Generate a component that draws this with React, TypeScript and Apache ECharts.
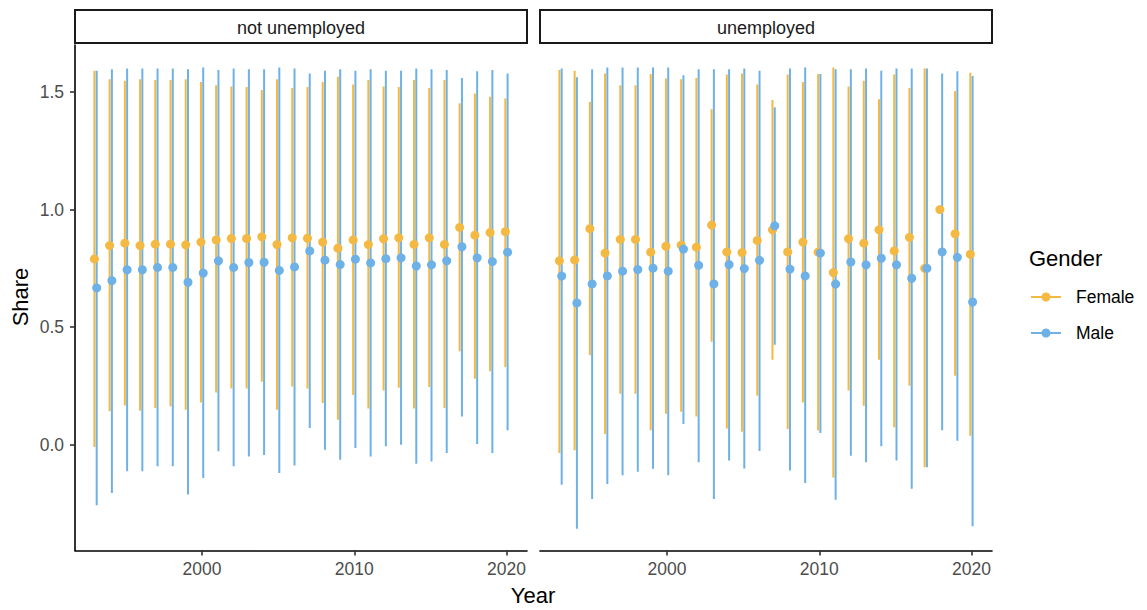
import React, { useEffect, useRef } from "react";
import * as echarts from "echarts";

const years = [1993, 1994, 1995, 1996, 1997, 1998, 1999, 2000, 2001, 2002, 2003, 2004, 2005, 2006, 2007, 2008, 2009, 2010, 2011, 2012, 2013, 2014, 2015, 2016, 2017, 2018, 2019, 2020];
const panels = ["not unemployed", "unemployed"];
const genders = ["Female", "Male"];
const xTicks = [2000, 2010, 2020];
const yTicks = [0, 0.5, 1, 1.5];

// not unemployed
const nuFemaleMean = [0.790, 0.847, 0.857, 0.847, 0.853, 0.853, 0.850, 0.862, 0.871, 0.877, 0.877, 0.884, 0.851, 0.880, 0.878, 0.862, 0.836, 0.871, 0.851, 0.876, 0.880, 0.852, 0.880, 0.852, 0.924, 0.891, 0.902, 0.906];
const nuFemaleLow = [-0.010, 0.142, 0.167, 0.144, 0.156, 0.163, 0.149, 0.180, 0.222, 0.239, 0.239, 0.268, 0.149, 0.248, 0.239, 0.177, 0.106, 0.211, 0.154, 0.230, 0.242, 0.154, 0.245, 0.156, 0.397, 0.280, 0.312, 0.330];
const nuFemaleHigh = [1.591, 1.554, 1.548, 1.554, 1.551, 1.551, 1.554, 1.543, 1.529, 1.524, 1.521, 1.509, 1.554, 1.517, 1.521, 1.543, 1.565, 1.532, 1.551, 1.524, 1.521, 1.551, 1.517, 1.551, 1.452, 1.494, 1.480, 1.472];
const nuMaleMean = [0.667, 0.698, 0.744, 0.744, 0.754, 0.754, 0.691, 0.730, 0.782, 0.754, 0.775, 0.776, 0.741, 0.756, 0.824, 0.785, 0.766, 0.789, 0.773, 0.791, 0.795, 0.760, 0.765, 0.782, 0.842, 0.795, 0.779, 0.819];
const nuMaleLow = [-0.258, -0.205, -0.113, -0.113, -0.092, -0.092, -0.212, -0.142, -0.028, -0.092, -0.050, -0.044, -0.120, -0.089, 0.071, -0.021, -0.064, -0.014, -0.050, -0.007, 0.000, -0.081, -0.071, -0.035, 0.120, 0.003, -0.035, 0.061];
const nuMaleHigh = [1.591, 1.597, 1.600, 1.600, 1.600, 1.600, 1.597, 1.604, 1.594, 1.600, 1.597, 1.597, 1.604, 1.600, 1.579, 1.591, 1.597, 1.591, 1.597, 1.591, 1.591, 1.600, 1.597, 1.594, 1.560, 1.588, 1.594, 1.579];

// unemployed
const uFemaleMean = [0.782, 0.786, 0.919, 0.815, 0.873, 0.873, 0.819, 0.844, 0.849, 0.840, 0.934, 0.820, 0.817, 0.869, 0.914, 0.820, 0.862, 0.819, 0.732, 0.876, 0.857, 0.914, 0.824, 0.882, 0.750, 1.000, 0.897, 0.810];
const uFemaleLow = [-0.035, -0.024, 0.381, 0.045, 0.217, 0.217, 0.061, 0.132, 0.140, 0.120, 0.438, 0.069, 0.055, 0.208, 0.361, 0.067, 0.180, 0.060, -0.139, 0.230, 0.166, 0.361, 0.074, 0.251, -0.096, null, 0.293, 0.038];
const uFemaleHigh = [1.594, 1.591, 1.458, 1.579, 1.529, 1.529, 1.577, 1.557, 1.554, 1.560, 1.427, 1.574, 1.579, 1.532, 1.466, 1.574, 1.543, 1.577, 1.604, 1.524, 1.548, 1.469, 1.574, 1.517, 1.600, null, 1.504, 1.582];
const uMaleMean = [0.717, 0.603, 0.684, 0.718, 0.738, 0.745, 0.751, 0.738, 0.832, 0.763, 0.684, 0.766, 0.749, 0.784, 0.931, 0.747, 0.718, 0.815, 0.683, 0.777, 0.765, 0.793, 0.765, 0.708, 0.750, 0.820, 0.797, 0.607];
const uMaleLow = [-0.170, -0.357, -0.231, -0.167, -0.130, -0.115, -0.102, -0.130, 0.088, -0.075, -0.231, -0.067, -0.101, -0.027, 0.425, -0.110, -0.163, 0.050, -0.234, -0.047, -0.075, -0.007, -0.067, -0.187, -0.096, 0.061, 0.017, -0.347];
const uMaleHigh = [1.600, 1.563, 1.597, 1.604, 1.604, 1.604, 1.604, 1.604, 1.571, 1.597, 1.597, 1.597, 1.600, 1.591, 1.435, 1.600, 1.604, 1.577, 1.597, 1.597, 1.600, 1.591, 1.600, 1.600, 1.600, 1.579, 1.588, 1.568];

const COLORS = { Female: "#F4B942", Male: "#6DB1E7" };
const FONT = "'Liberation Sans', Arial, Helvetica, sans-serif";
const DODGE = 0.075;

export default function App() {
  const ref = useRef<HTMLDivElement>(null);

  useEffect(() => {
    if (!ref.current) return;
    const chart = echarts.init(ref.current, null, { renderer: "svg" });

    const gridDefs = [
      { left: 75, top: 45, width: 452, height: 505.5 },
      { left: 540, top: 45, width: 452, height: 505.5 },
    ];

    const panelData = [
      {
        Female: { mean: nuFemaleMean, low: nuFemaleLow, high: nuFemaleHigh },
        Male: { mean: nuMaleMean, low: nuMaleLow, high: nuMaleHigh },
      },
      {
        Female: { mean: uFemaleMean, low: uFemaleLow, high: uFemaleHigh },
        Male: { mean: uMaleMean, low: uMaleLow, high: uMaleHigh },
      },
    ];

    const xAxes = gridDefs.map((_, i) => ({
      type: "value",
      gridIndex: i,
      min: 1991.65,
      max: 2021.35,
      axisLine: { show: true, onZero: false, lineStyle: { color: "#000", width: 1.6 } },
      axisTick: { show: true, length: 5, customValues: xTicks, lineStyle: { color: "#333", width: 1.6 } },
      axisLabel: {
        show: true,
        customValues: xTicks,
        color: "#4D4D4D",
        fontSize: 17.5,
        fontFamily: FONT,
        margin: 9,
        formatter: (v: number) => String(v),
      },
      splitLine: { show: false },
    }));

    const yAxes = gridDefs.map((_, i) => ({
      type: "value",
      gridIndex: i,
      min: -0.45,
      max: 1.7,
      axisLine: { show: i === 0, onZero: false, lineStyle: { color: "#000", width: 1.6 } },
      axisTick: { show: i === 0, length: 5, customValues: yTicks, lineStyle: { color: "#333", width: 1.6 } },
      axisLabel: {
        show: i === 0,
        customValues: yTicks,
        color: "#4D4D4D",
        fontSize: 17.5,
        fontFamily: FONT,
        margin: 11,
        formatter: (v: number) => v.toFixed(1),
      },
      splitLine: { show: false },
    }));

    const series: any[] = [];
    panelData.forEach((pd, pi) => {
      genders.forEach((g, gi) => {
        const d = (pd as any)[g];
        const off = gi === 0 ? -DODGE : DODGE;
        series.push({
          type: "custom",
          name: g,
          xAxisIndex: pi,
          yAxisIndex: pi,
          z: 1,
          silent: true,
          data: years.map((y, k) => [y + off, d.low[k], d.high[k]]),
          encode: { x: 0, y: [1, 2] },
          renderItem: (params: any, api: any) => {
            const lo = api.value(1);
            const hi = api.value(2);
            if (lo === null || hi === null || isNaN(lo) || isNaN(hi)) return null;
            const p1 = api.coord([api.value(0), lo]);
            const p2 = api.coord([api.value(0), hi]);
            return {
              type: "line",
              shape: { x1: p1[0], y1: p1[1], x2: p2[0], y2: p2[1] },
              style: { stroke: (COLORS as any)[g], lineWidth: 2 },
            };
          },
        });
      });
    });
    panelData.forEach((pd, pi) => {
      genders.forEach((g, gi) => {
        const d = (pd as any)[g];
        const off = gi === 0 ? -DODGE : DODGE;
        series.push({
          type: "scatter",
          name: g,
          xAxisIndex: pi,
          yAxisIndex: pi,
          z: 2,
          symbol: "circle",
          symbolSize: 9,
          itemStyle: { color: (COLORS as any)[g], opacity: 1 },
          data: years.map((y, k) => [y + off, d.mean[k]]),
        });
      });
    });

    const graphics: any[] = [];
    gridDefs.forEach((gd, i) => {
      graphics.push({
        type: "rect",
        shape: { x: gd.left, y: 10, width: gd.width, height: 33 },
        style: { fill: "#fff", stroke: "#1a1a1a", lineWidth: 2 },
      });
      graphics.push({
        type: "text",
        x: gd.left + gd.width / 2,
        y: 27.5,
        style: {
          text: panels[i],
          fill: "#1A1A1A",
          fontSize: 18,
          fontFamily: FONT,
          textAlign: "center",
          textVerticalAlign: "middle",
        },
      });
    });
    graphics.push({
      type: "text",
      x: 533,
      y: 595,
      style: { text: "Year", fill: "#000", fontSize: 22, fontFamily: FONT, textAlign: "center", textVerticalAlign: "middle" },
    });
    graphics.push({
      type: "text",
      x: 20,
      y: 297,
      rotation: Math.PI / 2,
      style: { text: "Share", fill: "#000", fontSize: 22, fontFamily: FONT, textAlign: "center", textVerticalAlign: "middle" },
    });
    graphics.push({
      type: "text",
      x: 1029,
      y: 258,
      style: { text: "Gender", fill: "#000", fontSize: 22, fontFamily: FONT, textAlign: "left", textVerticalAlign: "middle" },
    });
    genders.forEach((g, i) => {
      const cy = 297 + i * 36;
      graphics.push({
        type: "line",
        shape: { x1: 1031, y1: cy, x2: 1061, y2: cy },
        style: { stroke: (COLORS as any)[g], lineWidth: 2 },
      });
      graphics.push({
        type: "circle",
        shape: { cx: 1046, cy, r: 4.5 },
        style: { fill: (COLORS as any)[g] },
      });
      graphics.push({
        type: "text",
        x: 1076,
        y: cy,
        style: { text: g, fill: "#000", fontSize: 17.5, fontFamily: FONT, textAlign: "left", textVerticalAlign: "middle" },
      });
    });

    chart.setOption({
      animation: false,
      backgroundColor: "#fff",
      textStyle: { fontFamily: FONT },
      grid: gridDefs.map((g) => ({ ...g, containLabel: false })),
      xAxis: xAxes,
      yAxis: yAxes,
      series,
      graphic: graphics,
    });

    return () => chart.dispose();
  }, []);

  return (
    <div
      ref={ref}
      style={{ position: "fixed", left: 0, top: 0, width: 1147, height: 610, background: "#fff" }}
    />
  );
}
